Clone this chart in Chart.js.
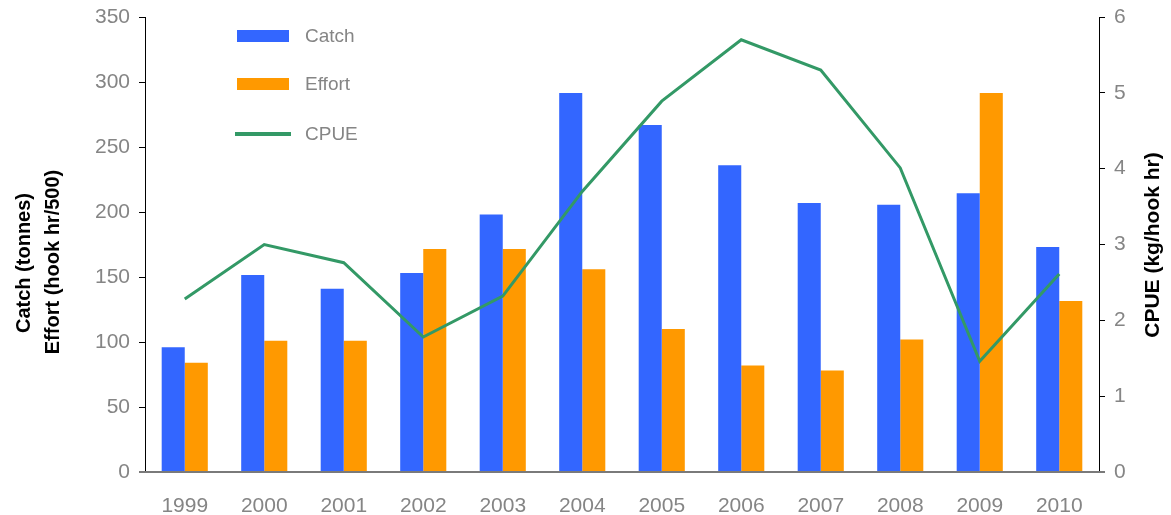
<!DOCTYPE html>
<html>
<head>
<meta charset="utf-8">
<script src="https://cdn.jsdelivr.net/npm/chart.js@4"></script>
<style>
  html, body { margin: 0; padding: 0; background: #fff; }
  #wrap { width: 1171px; height: 515px; position: relative; }
</style>
</head>
<body>
<div id="wrap"><canvas id="chart"></canvas></div>
<script>
// Dados
const years = ['1999', '2000', '2001', '2002', '2003', '2004', '2005', '2006', '2007', '2008', '2009', '2010'];
const catchTonnes = [96, 151.5, 141, 153, 198, 291.5, 267, 236, 207, 205.5, 214.5, 173];
const effort = [84, 101, 101, 171.5, 171.5, 156, 110, 82, 78, 102, 291.5, 131.5];
const cpue = [2.28, 3.0, 2.76, 1.78, 2.32, 3.7, 4.89, 5.70, 5.30, 4.01, 1.46, 2.61];

const leftTicks = [0, 50, 100, 150, 200, 250, 300, 350];
const rightTicks = [0, 1, 2, 3, 4, 5, 6];

const grey = '#858585';
const font = 'Liberation Sans, Arial, sans-serif';

// Legenda e títulos desenhados à mão
const decorPlugin = {
    id: 'decor',
    afterDraw(chart) {
        const ctx = chart.ctx;
        const area = chart.chartArea;
        ctx.save();

        // linha do eixo x (cinza, passa além do eixo)
        ctx.strokeStyle = '#7a7a7a';
        ctx.lineWidth = 2;
        ctx.beginPath();
        ctx.moveTo(area.left - 6, area.bottom);
        ctx.lineTo(area.right + 6, area.bottom);
        ctx.stroke();

        // legenda
        const ds = chart.data.datasets;
        ctx.font = '19px ' + font;
        ctx.fillStyle = grey;
        ctx.textBaseline = 'middle';
        ctx.textAlign = 'left';
        const rows = [
            { d: ds[1], y: 36 },
            { d: ds[2], y: 84 },
            { d: ds[0], y: 134 }
        ];
        rows.forEach(r => {
            if (r.d.type === 'line') {
                ctx.strokeStyle = r.d.borderColor;
                ctx.lineWidth = 4;
                ctx.beginPath();
                ctx.moveTo(235, r.y);
                ctx.lineTo(291, r.y);
                ctx.stroke();
            } else {
                ctx.fillStyle = r.d.backgroundColor;
                ctx.fillRect(237, r.y - 6, 52, 12);
            }
            ctx.fillStyle = grey;
            ctx.fillText(r.d.label, 305, r.y + 1);
        });

        // títulos dos eixos
        ctx.fillStyle = '#000';
        ctx.font = 'bold 20px ' + font;
        ctx.textAlign = 'center';
        ctx.save();
        ctx.translate(24, 263);
        ctx.rotate(-Math.PI / 2);
        ctx.fillText('Catch (tonnes)', 0, 0);
        ctx.restore();
        ctx.save();
        ctx.translate(53, 262);
        ctx.rotate(-Math.PI / 2);
        ctx.fillText('Effort (hook hr/500)', 0, 0);
        ctx.restore();
        ctx.save();
        ctx.font = 'bold 21px ' + font;
        ctx.translate(1153, 245);
        ctx.rotate(-Math.PI / 2);
        ctx.fillText('CPUE (kg/hook hr)', 0, 0);
        ctx.restore();

        ctx.restore();
    }
};

const ctx = document.getElementById('chart').getContext('2d');
const chart = new Chart(ctx, {
    data: {
        labels: years,
        datasets: [{
            type: 'line',
            label: 'CPUE',
            data: cpue,
            yAxisID: 'y1',
            borderColor: '#339966',
            backgroundColor: '#339966',
            borderWidth: 3,
            pointRadius: 0,
            tension: 0,
            order: 0
        }, {
            type: 'bar',
            label: 'Catch',
            data: catchTonnes,
            yAxisID: 'y',
            backgroundColor: '#3366FF',
            categoryPercentage: 0.58,
            barPercentage: 1.0,
            order: 1
        }, {
            type: 'bar',
            label: 'Effort',
            data: effort,
            yAxisID: 'y',
            backgroundColor: '#FF9900',
            categoryPercentage: 0.58,
            barPercentage: 1.0,
            order: 1
        }]
    },
    options: {
        responsive: true,
        maintainAspectRatio: false,
        animation: false,
        layout: { padding: { top: 17, left: 0, right: 0, bottom: 0 } },
        plugins: {
            legend: { display: false },
            tooltip: { enabled: false }
        },
        scales: {
            x: {
                grid: { display: false },
                border: { display: false },
                ticks: { color: grey, font: { family: font, size: 21 }, padding: 14 },
                afterFit(scale) { scale.height = 43; }
            },
            y: {
                position: 'left',
                min: 0,
                max: 350,
                afterBuildTicks(scale) { scale.ticks = leftTicks.map(v => ({ value: v })); },
                grid: { drawOnChartArea: false, drawTicks: true, tickLength: 6, color: '#000', lineWidth: 1 },
                border: { display: true, color: '#000', width: 1 },
                ticks: { color: grey, font: { family: font, size: 21 }, padding: 9 },
                afterFit(scale) { scale.width = 145; scale.paddingTop = 0; scale.paddingBottom = 0; }
            },
            y1: {
                position: 'right',
                min: 0,
                max: 6,
                afterBuildTicks(scale) { scale.ticks = rightTicks.map(v => ({ value: v })); },
                grid: { drawOnChartArea: false, drawTicks: true, tickLength: 6, color: '#000', lineWidth: 1 },
                border: { display: true, color: '#000', width: 1 },
                ticks: { color: grey, font: { family: font, size: 21 }, padding: 9 },
                afterFit(scale) { scale.width = 72; scale.paddingTop = 0; scale.paddingBottom = 0; }
            }
        }
    },
    plugins: [decorPlugin]
});
</script>
</body>
</html>
